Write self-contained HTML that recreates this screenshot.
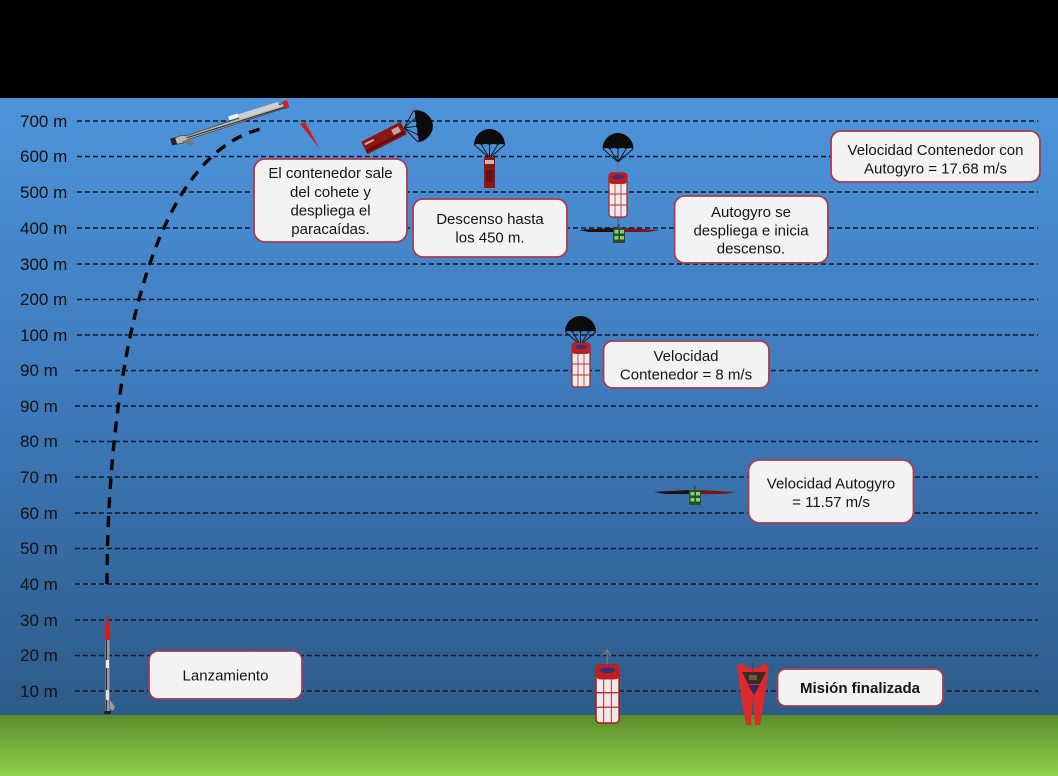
<!DOCTYPE html>
<html>
<head>
<meta charset="utf-8">
<style>
html,body{margin:0;padding:0;background:#000;}
svg{display:block;}
text{font-family:"Liberation Sans",Arial,sans-serif;}
</style>
</head>
<body>
<svg width="1058" height="776" viewBox="0 0 1058 776" xmlns="http://www.w3.org/2000/svg">
<defs>
  <linearGradient id="sky" x1="0" y1="0" x2="0" y2="1">
    <stop offset="0" stop-color="#4e94da"/>
    <stop offset="0.5" stop-color="#3d79ba"/>
    <stop offset="1" stop-color="#2d5b89"/>
  </linearGradient>
  <linearGradient id="grass" x1="0" y1="0" x2="0" y2="1">
    <stop offset="0" stop-color="#5a8c2a"/>
    <stop offset="1" stop-color="#8fd24c"/>
  </linearGradient>
  <g id="cyl">
    <rect x="0" y="0" width="18" height="44" rx="3" fill="#ecebee" stroke="#b51c1c" stroke-width="1.2"/>
    <rect x="-0.5" y="0" width="19" height="11" rx="4" fill="#c21d1d"/>
    <ellipse cx="9" cy="4" rx="6" ry="2.2" fill="#3a2d7a"/>
    <line x1="6" y1="10" x2="6" y2="44" stroke="#c02a2a" stroke-width="0.8"/>
    <line x1="12" y1="10" x2="12" y2="44" stroke="#c02a2a" stroke-width="0.8"/>
    <line x1="0" y1="21" x2="18" y2="21" stroke="#c02a2a" stroke-width="1"/>
    <line x1="0" y1="32" x2="18" y2="32" stroke="#c02a2a" stroke-width="1"/>
  </g>
  <g id="chute">
    <path d="M-15.5,0 A15.5,16 0 0 1 15.5,0 Q12,-2 8,0 Q4,-2 0,0 Q-4,-2 -8,0 Q-12,-2 -15.5,0 Z" fill="#0b0b0b"/>
    <g stroke="#111" stroke-width="0.9" fill="none">
      <line x1="-15" y1="0" x2="0" y2="13"/>
      <line x1="-8" y1="0" x2="0" y2="13"/>
      <line x1="0" y1="0" x2="0" y2="13"/>
      <line x1="8" y1="0" x2="0" y2="13"/>
      <line x1="15" y1="0" x2="0" y2="13"/>
    </g>
  </g>
  <g id="gyro">
    <path d="M-41,0 L-6,-2 L-6,2 L-30,2 Z" fill="#1a1010"/>
    <path d="M41,0 L6,-2 L6,2 L30,2 Z" fill="#7a1616"/>
    <path d="M-35,0 L-8,0" stroke="#3a0a0a" stroke-width="1.5"/>
    <line x1="0" y1="-6" x2="0" y2="0" stroke="#333" stroke-width="1"/>
    <rect x="-6" y="-2" width="12" height="15" fill="#2e4a26"/>
    <rect x="-4.5" y="0" width="4" height="3.5" fill="#7fd46a"/>
    <rect x="1" y="0" width="4" height="3.5" fill="#7fd46a"/>
    <rect x="-4.5" y="6" width="4" height="3.5" fill="#7fd46a"/>
    <rect x="1" y="6" width="4" height="3.5" fill="#7fd46a"/>
  </g>
</defs>

<rect x="0" y="0" width="1058" height="98" fill="#000"/>
<rect x="0" y="98" width="1058" height="617" fill="url(#sky)"/>
<rect x="0" y="715" width="1058" height="61" fill="url(#grass)"/>

<g font-size="17" fill="#111">
  <text x="20" y="127">700 m</text>
  <text x="20" y="162">600 m</text>
  <text x="20" y="198">500 m</text>
  <text x="20" y="234">400 m</text>
  <text x="20" y="270">300 m</text>
  <text x="20" y="305">200 m</text>
  <text x="20" y="341">100 m</text>
  <text x="20" y="376">90 m</text>
  <text x="20" y="412">90 m</text>
  <text x="20" y="447">80 m</text>
  <text x="20" y="483">70 m</text>
  <text x="20" y="519">60 m</text>
  <text x="20" y="554">50 m</text>
  <text x="20" y="590">40 m</text>
  <text x="20" y="626">30 m</text>
  <text x="20" y="661">20 m</text>
  <text x="20" y="697">10 m</text>
</g>

<g stroke="#0c1828" stroke-width="1.5" stroke-dasharray="5 3">
  <line x1="77" y1="121" x2="1038" y2="121"/>
  <line x1="77" y1="156.5" x2="1038" y2="156.5"/>
  <line x1="77" y1="192" x2="1038" y2="192"/>
  <line x1="77" y1="228" x2="1038" y2="228"/>
  <line x1="77" y1="264" x2="1038" y2="264"/>
  <line x1="77" y1="299.5" x2="1038" y2="299.5"/>
  <line x1="77" y1="335" x2="1038" y2="335"/>
  <line x1="75" y1="370.5" x2="1038" y2="370.5"/>
  <line x1="75" y1="406" x2="1038" y2="406"/>
  <line x1="75" y1="441.5" x2="1038" y2="441.5"/>
  <line x1="75" y1="477" x2="1038" y2="477"/>
  <line x1="75" y1="513" x2="1038" y2="513"/>
  <line x1="75" y1="548.5" x2="1038" y2="548.5"/>
  <line x1="75" y1="584" x2="1038" y2="584"/>
  <line x1="75" y1="620" x2="1038" y2="620"/>
  <line x1="75" y1="655.5" x2="1038" y2="655.5"/>
  <line x1="75" y1="691" x2="1038" y2="691"/>
</g>

<path d="M107,584 C107,420 136,155 265,128" fill="none" stroke="#050505" stroke-width="3.4" stroke-dasharray="11 8"/>

<g transform="translate(173,141) rotate(-17.4)">
  <path d="M0,-2 L10,-3 L14,-1 L120,-3 L120,2 L14,3 L10,5 L0,4 Z" fill="#b9b9b9" stroke="#444" stroke-width="0.8"/>
  <rect x="70" y="-6" width="42" height="5" fill="#cfcfcf"/>
  <rect x="60" y="-7" width="10" height="4" fill="#f4f4f4"/>
  <line x1="14" y1="1" x2="118" y2="1" stroke="#333" stroke-width="1.2"/>
  <rect x="116" y="-5" width="5" height="8" fill="#c22"/>
  <path d="M8,3 L16,10 L20,9 L16,3 Z" fill="#777"/>
  <rect x="-2" y="-3" width="5" height="7" fill="#222"/>
</g>

<path d="M300,124 L305,122 L320,149 Z" fill="#d21e1e"/>

<g transform="translate(384,138) rotate(-27)">
  <rect x="-22" y="-7" width="44" height="14" fill="#8c1515"/>
  <rect x="-20" y="-4" width="10" height="2" fill="#d9b0b0"/>
  <rect x="10" y="-4" width="8" height="6" fill="#c9a0a0"/>
  <rect x="-22" y="3" width="44" height="2" fill="#5e0c0c"/>
</g>
<g transform="translate(404,128) rotate(-8)">
  <g stroke="#111" stroke-width="0.9">
    <line x1="0" y1="0" x2="12" y2="-16"/>
    <line x1="0" y1="0" x2="12" y2="-8"/>
    <line x1="0" y1="0" x2="12" y2="0"/>
    <line x1="0" y1="0" x2="12" y2="8"/>
    <line x1="0" y1="0" x2="12" y2="16"/>
  </g>
  <path d="M12,-16 A17,16 0 0 1 12,16 Q14,12 12,8 Q14,4 12,0 Q14,-4 12,-8 Q14,-12 12,-16 Z" fill="#0b0b0b"/>
</g>

<use href="#chute" x="489.5" y="145"/>
<rect x="484" y="157" width="11" height="31" fill="#8c1515"/>
<rect x="485" y="160" width="9" height="4" fill="#d9b0b0"/>
<rect x="486" y="170" width="7" height="12" fill="#6a0f0f"/>

<use href="#chute" x="618" y="149"/>
<line x1="618" y1="162" x2="618" y2="173" stroke="#777" stroke-width="1.2"/>
<use href="#cyl" x="609" y="173"/>
<line x1="618" y1="217" x2="618" y2="230" stroke="#555" stroke-width="1"/>
<use href="#gyro" x="619" y="230"/>

<use href="#chute" x="580.5" y="332"/>
<use href="#cyl" x="572" y="343"/>

<use href="#gyro" x="695" y="492"/>

<line x1="607" y1="650" x2="607" y2="665" stroke="#777" stroke-width="1.5"/>
<path d="M603,655 L607,650 L611,656" stroke="#888" stroke-width="1" fill="none"/>
<g transform="translate(596,665) scale(1.28,1.32)"><use href="#cyl"/></g>

<g>
  <path d="M737,666 L742,663 L748,668 L758,668 L764,663 L769,667 L766,690 L760,725 L755,725 L753,695 L751,725 L746,725 L740,690 Z" fill="#dd2a2a"/>
  <path d="M742,672 L766,672 L760,684 L748,684 Z" fill="#3a2a22"/>
  <rect x="749" y="675" width="8" height="5" fill="#6a5a4a"/>
  <line x1="753" y1="662" x2="753" y2="672" stroke="#444" stroke-width="1"/>
  <path d="M748,685 L754,695 L760,685" fill="#2f2a6a"/>
</g>

<path d="M107.5,613 L110,628 L110,640 L105,640 L105,628 Z" fill="#d51e1e"/>
<rect x="105.5" y="640" width="4" height="73" fill="#9a9a9a"/>
<line x1="106.5" y1="640" x2="106.5" y2="713" stroke="#2a2a2a" stroke-width="1"/>
<rect x="106" y="660" width="3" height="8" fill="#f2f2f2"/>
<rect x="106" y="690" width="3" height="10" fill="#ddd"/>
<path d="M110,700 L115,707 L113,711 L110,709 Z" fill="#9a9a9a"/>
<rect x="104" y="711" width="7" height="3" fill="#222"/>

<g fill="#f3f3f3" stroke="#a83a52" stroke-width="1.8">
  <rect x="254" y="159" width="153" height="83" rx="11"/>
  <rect x="413" y="199" width="154" height="58" rx="10"/>
  <rect x="674.5" y="196" width="153.5" height="67" rx="10"/>
  <rect x="831" y="131" width="209" height="51" rx="10"/>
  <rect x="603.5" y="341" width="165.5" height="47" rx="9"/>
  <rect x="748.5" y="460" width="165" height="63" rx="11"/>
  <rect x="149" y="651" width="153" height="48" rx="9"/>
  <rect x="777.5" y="669" width="165.5" height="37" rx="8"/>
</g>

<g font-size="15" fill="#141414" text-anchor="middle">
  <text x="330.5" y="178">El contenedor sale</text>
  <text x="330.5" y="197">del cohete y</text>
  <text x="330.5" y="215.5">despliega el</text>
  <text x="330.5" y="234">paracaídas.</text>

  <text x="490" y="224">Descenso hasta</text>
  <text x="490" y="242.5">los 450 m.</text>

  <text x="751" y="217">Autogyro se</text>
  <text x="751" y="235.5">despliega e inicia</text>
  <text x="751" y="253.5">descenso.</text>

  <text x="935.5" y="155">Velocidad Contenedor con</text>
  <text x="935.5" y="173.5">Autogyro = 17.68 m/s</text>

  <text x="686" y="361">Velocidad</text>
  <text x="686" y="379.5">Contenedor = 8 m/s</text>

  <text x="831" y="488.5">Velocidad Autogyro</text>
  <text x="831" y="507">= 11.57 m/s</text>

  <text x="225.5" y="680.5">Lanzamiento</text>

  <text x="860" y="693" font-weight="bold">Misión finalizada</text>
</g>
</svg>
</body>
</html>
